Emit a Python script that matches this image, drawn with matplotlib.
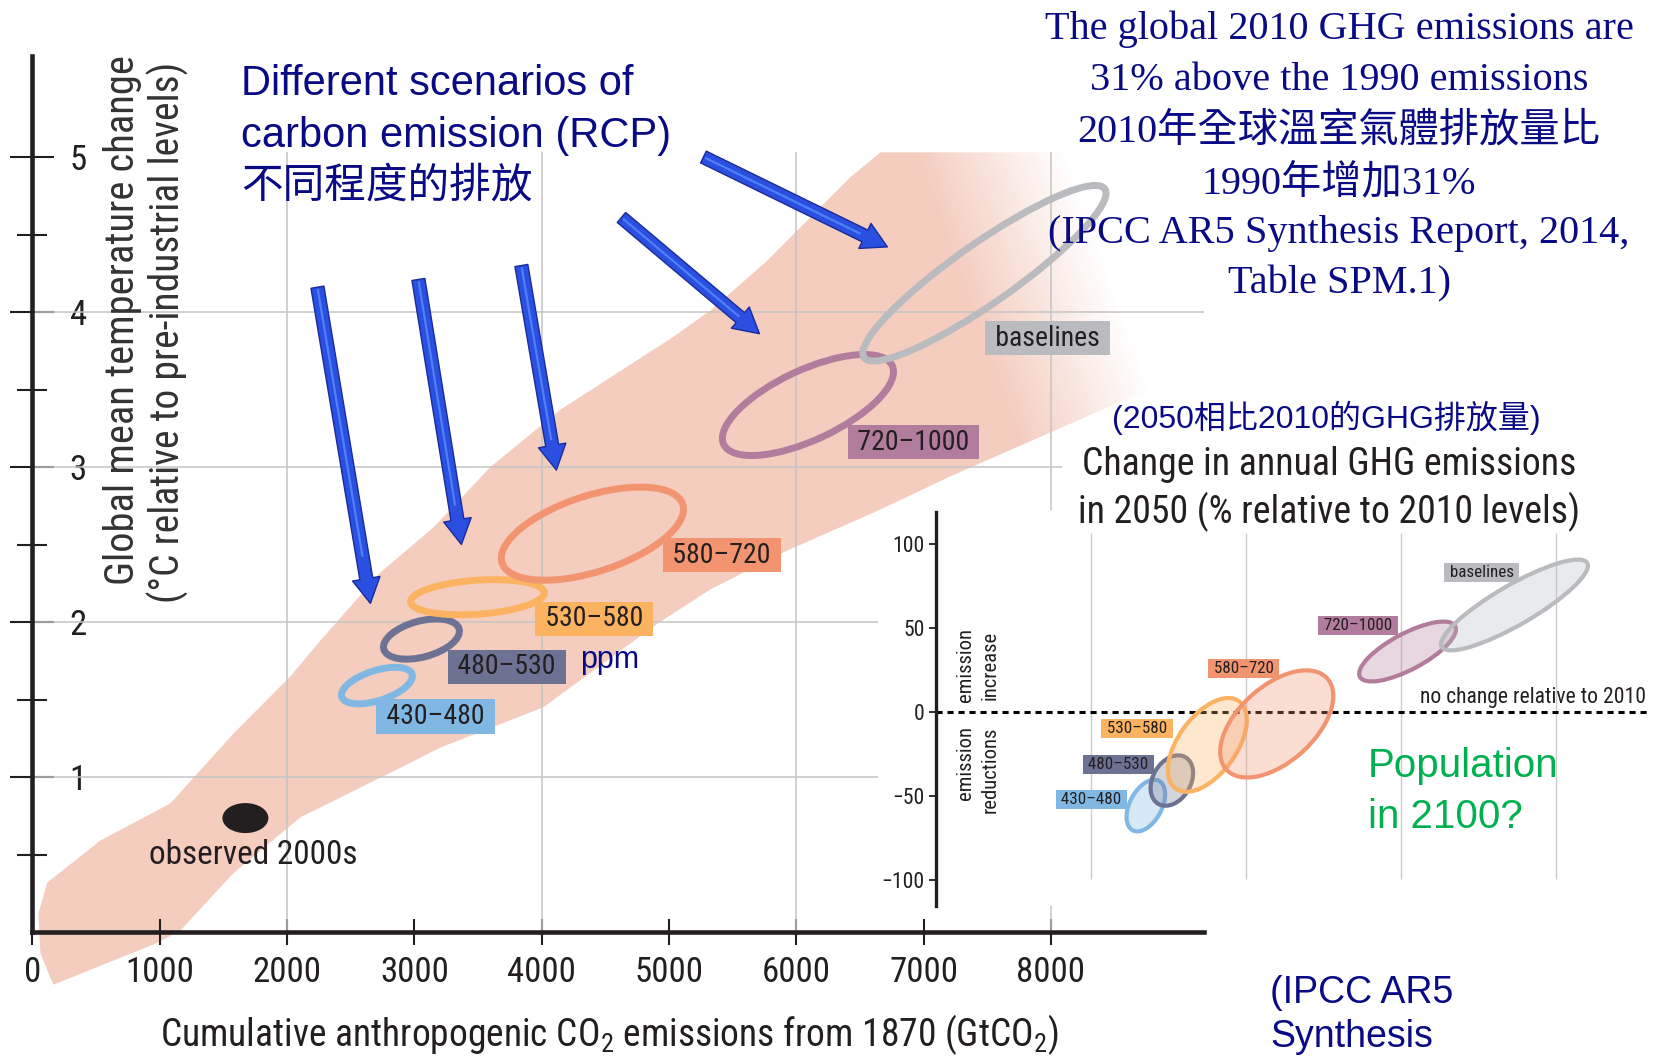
import numpy as np
import matplotlib
matplotlib.use('Agg')
import matplotlib.pyplot as plt
from matplotlib import transforms
from matplotlib import font_manager as fm
from matplotlib.patches import Ellipse, Polygon, Rectangle

# pick the narrowest sans family that is installed
avail = {f.name for f in fm.fontManager.ttflist}
COND = next((n for n in ['Liberation Sans Narrow', 'Roboto Condensed', 'Open Sans Condensed',
                         'Roboto', 'Lato'] if n in avail), 'DejaVu Sans')
NARROW = [COND, 'DejaVu Sans']
SANS_CJK = ['Liberation Sans', 'Noto Sans CJK TC', 'DejaVu Sans']
SERIF_CJK = ['Liberation Serif', 'Noto Sans CJK TC', 'DejaVu Serif']

plt.rcParams['font.family'] = NARROW
plt.rcParams['mathtext.fontset'] = 'custom'
plt.rcParams['mathtext.rm'] = COND
plt.rcParams['mathtext.it'] = COND + ':italic'
plt.rcParams['mathtext.bf'] = COND + ':bold'

INK = '#231f20'
NAVY = '#0a0a85'
GREEN = '#00b050'

# ---------------- data ----------------
# warming band: cumulative CO2 (GtCO2) vs temperature change (deg C)
band_up_x = [118, 534, 1084, 1579, 2027, 2262, 2734, 3150, 3598, 4148, 5035, 5326, 5758,
             6426, 6661, 9100]
band_up_y = [0.32, 0.59, 0.83, 1.28, 1.65, 1.88, 2.32, 2.61, 3.00, 3.37, 3.84, 4.01, 4.32,
             4.87, 5.03, 5.03]
band_lo_x = [9100, 7211, 6646, 5899, 5326, 4910, 4014, 3205, 2891, 2105, 1579, 1163, 982,
             165, 63, 47]
band_lo_y = [3.62, 2.94, 2.72, 2.45, 2.21, 1.99, 1.45, 1.19, 1.06, 0.74, 0.38, 0.01, -0.07,
             -0.34, -0.14, 0.12]

scenarios = ['430–480', '480–530', '530–580', '580–720', '720–1000', 'baselines']
colors = ['#80b8e3', '#6d7293', '#fbb361', '#f39470', '#b27c9c', '#b9bbbe']

# main panel: scenario ranges (centre of each ellipse) and label spots
main_cx = [2706, 3056, 3496, 4399, 6092, 7478]
main_cy = [1.59, 1.89, 2.16, 2.57, 3.40, 4.25]
main_lx = [3166, 3727, 4415, 5416, 6921, 7973]
main_ly = [1.39, 1.71, 2.02, 2.43, 3.16, 3.83]

obs_x, obs_y = 1673, 0.735

# inset: change in annual GHG emissions in 2050 (% rel. 2010)
ins_cx = [1.355, 1.523, 1.752, 2.20, 3.045, 3.735]
ins_cy = [-55.7, -40.8, -19.6, -7.1, 36.0, 63.7]
ins_lx = [1.003, 1.177, 1.297, 1.987, 2.726, 3.523]
ins_ly = [-52.1, -31.25, -9.8, 25.9, 51.5, 83.0]

# pointer arrows (tail -> tip)
arrow_tail_x = [2239, 3032, 3841, 4627, 5271]
arrow_tail_y = [4.16, 4.21, 4.30, 4.61, 5.00]
arrow_tip_x = [2655, 3370, 4116, 5711, 6716]
arrow_tip_y = [2.12, 2.50, 2.98, 3.86, 4.42]

xticks_main = [0, 1000, 2000, 3000, 4000, 5000, 6000, 7000, 8000]
yticks_main = [1, 2, 3, 4, 5]
yticks_inset = [-100, -50, 0, 50, 100]

# ellipse shapes (inches / degrees) - styling only
main_w = [0.74, 0.78, 1.34, 1.90, 1.86, 2.94]
main_h = [0.30, 0.36, 0.34, 0.76, 0.70, 0.60]
main_a = [18, 15, 4, 18, 25, 35]
ins_w = [0.56, 0.54, 1.08, 1.36, 1.08, 1.68]
ins_h = [0.32, 0.38, 0.58, 0.76, 0.36, 0.40]
ins_a = [62, 60, 54, 42, 28, 30]

fig = plt.figure(figsize=(16.56, 10.56), dpi=100)
fig.patch.set_facecolor('white')
renderer = fig.canvas.get_renderer()


def fit_size(txt, target_px, **kw):
    # font size that makes txt about target_px wide
    t = fig.text(0, 0, txt, fontsize=20, **kw)
    w = t.get_window_extent(renderer=renderer).width
    t.remove()
    return 20.0 * target_px / w


def ring(ax, x, y, w, h, ang, **kw):
    # size in inches, centre in data units
    tr = fig.dpi_scale_trans + transforms.ScaledTranslation(x, y, ax.transData)
    e = Ellipse((0, 0), w, h, angle=ang, transform=tr, **kw)
    ax.add_artist(e)
    return e


XLABEL = 'Cumulative anthropogenic CO$_2$ emissions from 1870 (GtCO$_2$)'
tick_fs = fit_size('1000', 69)
xlabel_fs = fit_size(XLABEL, 900)
ylab1_fs = fit_size('Global mean temperature change', 528)
ylab2_fs = fit_size('(°C relative to pre-industrial levels)', 539)
obs_fs = fit_size('observed 2000s', 209)
box_fs = fit_size('580–720', 98)
title_fs = 0.5 * (fit_size('Change in annual GHG emissions', 488)
                  + fit_size('in 2050 (% relative to 2010 levels)', 506))
nochange_fs = fit_size('no change relative to 2010', 226)
side_fs = fit_size('reductions', 86)
ins_tick_fs = fit_size('100', 32)
ins_box_fs = fit_size('580–720', 60)

# ---------------- main panel ----------------
ax = fig.add_axes([0.01957, 0.11742, 0.70725, 0.82931])
XMAX, YMAX = 9200, 5.65

band = Polygon(np.column_stack([band_up_x + band_lo_x, band_up_y + band_lo_y]),
               closed=True, fc='#f4cdbf', ec='none', zorder=1, clip_on=False)
ax.add_patch(band)

# fade the band out towards the upper right
gx = np.linspace(5000, XMAX, 400)
gy = np.linspace(0, YMAX, 300)
GX, GY = np.meshgrid(gx, gy)
fade = np.clip((0.1199 * GX + 52.08 * GY - 1093) / 140, 0, 1)
rgba = np.ones(GX.shape + (4,))
rgba[..., 3] = fade
ax.imshow(rgba, extent=[5000, XMAX, 0, YMAX], origin='lower', aspect='auto',
          interpolation='bilinear', zorder=1.5)

ax.vlines([2000, 4000, 6000, 8000], 0, 5.03, colors='#c4c4c4', lw=1.1, zorder=2)
ax.hlines([1, 2, 3, 4], 0, XMAX, colors='#c4c4c4', lw=1.1, zorder=2)

for i, name in enumerate(scenarios):
    ring(ax, main_cx[i], main_cy[i], main_w[i], main_h[i], main_a[i],
         fc='none', ec=colors[i], lw=5, zorder=3)
    ax.text(main_lx[i], main_ly[i], ' ' + name + ' ', fontsize=box_fs, color=INK,
            ha='center', va='center', zorder=4,
            bbox=dict(boxstyle='square,pad=0.13', fc=colors[i], ec='none'))

ring(ax, obs_x, obs_y, 0.46, 0.30, 0, fc=INK, ec='none', zorder=3)
ax.text(1736, 0.44, 'observed 2000s', fontsize=obs_fs, color=INK,
        ha='center', va='baseline', zorder=4)
ax.text(4305, 1.755, 'ppm', family=SANS_CJK, fontsize=22, color=NAVY,
        ha='left', va='center', zorder=4)

for tx, ty, hx, hy in zip(arrow_tail_x, arrow_tail_y, arrow_tip_x, arrow_tip_y):
    ax.annotate('', xy=(hx, hy), xytext=(tx, ty), annotation_clip=False,
                arrowprops=dict(arrowstyle='simple,head_length=0.9,head_width=1.0,tail_width=0.47',
                                mutation_scale=20, fc='#2b4fe0', ec='#1a2c9a', lw=1.0,
                                shrinkA=0, shrinkB=0), zorder=5)
    mx, my = tx + 0.85 * (hx - tx), ty + 0.85 * (hy - ty)
    ax.annotate('', xy=(mx, my), xytext=(tx, ty), annotation_clip=False,
                arrowprops=dict(arrowstyle='-', color='#4f80f8', lw=1.6,
                                shrinkA=2, shrinkB=0), zorder=6)

ax.set_xlim(0, XMAX)
ax.set_ylim(0, YMAX)
for s in ['top', 'right']:
    ax.spines[s].set_visible(False)
for s in ['left', 'bottom']:
    ax.spines[s].set_linewidth(3.3)
    ax.spines[s].set_color(INK)
    ax.spines[s].set_zorder(6)

ax.set_xticks(xticks_main)
ax.set_xticklabels([str(v) for v in xticks_main])
ax.tick_params(axis='x', direction='inout', length=19, width=1.5, pad=8,
               labelsize=tick_fs, colors=INK)
ax.set_yticks(yticks_main)
ax.set_yticklabels([str(v) for v in yticks_main])
ax.set_yticks(np.arange(0.5, 5.0, 1.0), minor=True)
ax.tick_params(axis='y', which='major', direction='inout', length=32, width=1.5,
               pad=-42.8, labelsize=tick_fs, colors=INK)
ax.tick_params(axis='y', which='minor', direction='inout', length=21.6, width=1.5,
               colors=INK)
plt.setp(ax.get_yticklabels(), ha='left')

ax.set_xlabel(XLABEL, fontsize=xlabel_fs, color=INK)
ax.xaxis.set_label_coords(0.4923, -0.0914)

fig.text(0.0809, 0.697, 'Global mean temperature change', rotation=90,
         rotation_mode='anchor', ha='center', va='baseline', fontsize=ylab1_fs,
         color='#333333')
fig.text(0.1087, 0.6856, '(°C relative to pre-industrial levels)', rotation=90,
         rotation_mode='anchor', ha='center', va='baseline', fontsize=ylab2_fs,
         color='#333333')

# ---------------- white panels for the inset ----------------
fig.add_artist(Rectangle((0.5302, 0.1420), 0.4698, 0.375, transform=fig.transFigure,
                         fc='white', ec='none', zorder=2))
fig.add_artist(Rectangle((0.6413, 0.5170), 0.3587, 0.0758, transform=fig.transFigure,
                         fc='white', ec='none', zorder=2))

# ---------------- inset ----------------
ax2 = fig.add_axes([0.5652, 0.1420, 0.4293, 0.3731], zorder=4)
ax2.patch.set_visible(False)
ax2.set_xlim(0, 4.59)
ax2.set_ylim(-115.5, 119)
for s in ['top', 'right', 'bottom']:
    ax2.spines[s].set_visible(False)
ax2.spines['left'].set_linewidth(2.4)
ax2.spines['left'].set_color(INK)
ax2.set_xticks([])
ax2.set_yticks(yticks_inset)
ax2.tick_params(axis='y', length=5, width=1.3, pad=3, labelsize=ins_tick_fs, colors=INK)

ax2.vlines([1, 2, 3, 4], -99.4, 106.5, colors='#cccccc', lw=1.0, zorder=1)
ax2.axhline(0, color='black', lw=2.2, ls=(0, (2, 1.6)), zorder=2)
ax2.text(4.585, 5.5, 'no change relative to 2010', fontsize=nochange_fs, color=INK,
         ha='right', va='baseline', zorder=4)

for i, name in enumerate(scenarios):
    ring(ax2, ins_cx[i], ins_cy[i], ins_w[i], ins_h[i], ins_a[i],
         fc=matplotlib.colors.to_rgba(colors[i], 0.3), ec=colors[i], lw=3, zorder=3)
    ax2.text(ins_lx[i], ins_ly[i], ' ' + name + ' ', fontsize=ins_box_fs, color=INK,
             ha='center', va='center', zorder=5,
             bbox=dict(boxstyle='square,pad=0.1', fc=colors[i], ec='none'))

side = [(0.226, 28.0, 'emission'), (0.387, 28.0, 'increase'),
        (0.226, -30.1, 'emission'), (0.387, -34.5, 'reductions')]
for x, y, txt in side:
    ax2.text(x, y, txt, rotation=90, rotation_mode='anchor', ha='center',
             va='baseline', fontsize=side_fs, color=INK)

ax2.text(2.787, -38.7, 'Population', family=SANS_CJK, fontsize=29, color=GREEN,
         ha='left', va='baseline', zorder=5)
ax2.text(2.787, -69.0, 'in 2100?', family=SANS_CJK, fontsize=29, color=GREEN,
         ha='left', va='baseline', zorder=5)

# ---------------- annotations ----------------
fig.text(0.1455, 0.9100, 'Different scenarios of', family=SANS_CJK, fontsize=30,
         color=NAVY, ha='left', va='baseline')
fig.text(0.1455, 0.8608, 'carbon emission (RCP)', family=SANS_CJK, fontsize=30,
         color=NAVY, ha='left', va='baseline')
fig.text(0.1455, 0.8134, '不同程度的排放', family=['Noto Sans CJK TC', 'DejaVu Sans'],
         fontsize=30, weight='light', color=NAVY, ha='left', va='baseline')

note_lines = ['The global 2010 GHG emissions are', '31% above the 1990 emissions',
              '2010年全球溫室氣體排放量比', '1990年增加31%',
              '(IPCC AR5 Synthesis Report, 2014,', 'Table SPM.1)']
note_y = [0.9631, 0.9143, 0.8660, 0.8172, 0.7699, 0.7221]
for txt, y in zip(note_lines, note_y):
    fig.text(0.8086, y, txt, family=SERIF_CJK, fontsize=29, color=NAVY,
             ha='center', va='baseline', zorder=5)

fig.text(0.6715, 0.5947, '(2050相比2010的GHG排放量)', family=SANS_CJK, fontsize=23,
         color=NAVY, ha='left', va='baseline', zorder=5)
fig.text(0.8025, 0.5502, 'Change in annual GHG emissions', fontsize=title_fs, color=INK,
         ha='center', va='baseline', zorder=5)
fig.text(0.8025, 0.5047, 'in 2050 (% relative to 2010 levels)', fontsize=title_fs,
         color=INK, ha='center', va='baseline', zorder=5)

fig.text(0.7669, 0.0502, '(IPCC AR5', family=SANS_CJK, fontsize=27, color=NAVY,
         ha='left', va='baseline', zorder=5)
fig.text(0.7669, 0.0085, 'Synthesis', family=SANS_CJK, fontsize=27, color=NAVY,
         ha='left', va='baseline', zorder=5)

fig.savefig('out.png', dpi=100, facecolor='white')
